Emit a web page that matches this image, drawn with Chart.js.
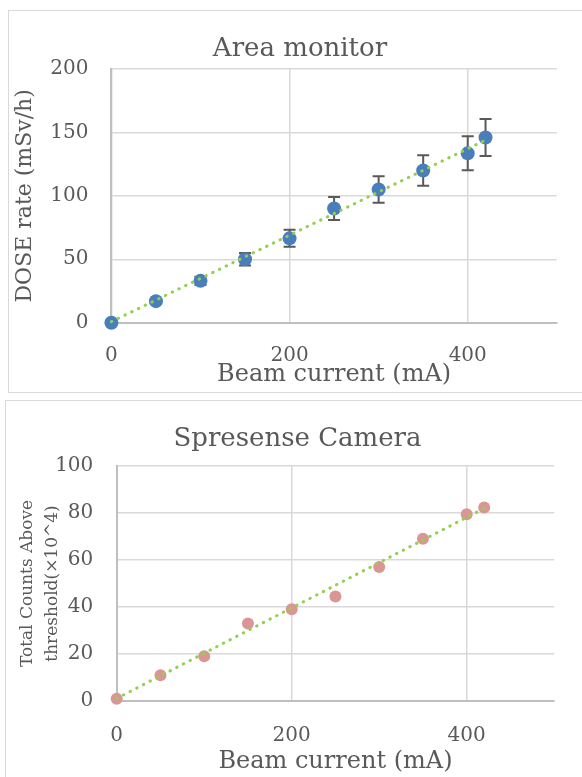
<!DOCTYPE html>
<html>
<head>
<meta charset="utf-8">
<script src="https://cdn.jsdelivr.net/npm/chart.js@4/dist/chart.umd.min.js"></script>
<style>
  html, body { margin: 0; padding: 0; background: #ffffff; width: 582px; height: 777px; overflow: hidden; position: relative; }
  .frame { position: absolute; border: 1.5px solid #d9d9d9; box-sizing: border-box; }
  canvas { position: absolute; }
</style>
</head>
<body>
<div class="frame" style="left:8px; top:10px; width:620px; height:383px;"></div>
<div class="frame" style="left:5px; top:400px; width:620px; height:420px;"></div>
<canvas id="c1" width="584" height="383" style="left:8px; top:10px; width:584px; height:383px;"></canvas>
<canvas id="c2" width="585" height="377" style="left:5px; top:400px; width:585px; height:377px;"></canvas>
<script>
// ---- data ----
const beamCurrent = [0, 50, 100, 150, 200, 250, 300, 350, 400, 420];
const doseRate = [0, 17, 33, 50, 66.5, 90, 105, 120, 133.5, 146];
const doseError = [0, 1.7, 3.3, 5, 6.7, 9, 10.5, 12, 13.4, 14.6];
const totalCounts = [1, 11, 19, 33, 39, 44.5, 57, 69, 79.5, 82.3];
const trendX = [0, 420];
const doseTrendY = [0.8, 144];
const countTrendY = [1.1, 82];
const xTickValues = [0, 200, 400];

const FONT = "'DejaVu Serif', 'Liberation Serif', serif";
const TXT = '#595959';
const GRID = '#d9d9d9';
const AXIS = '#bfbfbf';

const pts = (xs, ys) => xs.map((x, i) => ({ x: x, y: ys[i] }));

const titleFix = {
  id: 'titleFix',
  afterLayout(chart) {
    const t = chart.titleBlock;
    if (t) { t.left = 0; t.right = chart.width; t.width = chart.width; }
  }
};

const errorBars = {
  id: 'errorBars',
  beforeDatasetsDraw(chart, args, opts) {
    if (!opts || !opts.errors) return;
    const xs = chart.scales.x, ys = chart.scales.y;
    const ctx = chart.ctx;
    ctx.save();
    ctx.strokeStyle = '#595959';
    ctx.lineWidth = 2;
    opts.xs.forEach((xv, i) => {
      const e = opts.errors[i];
      if (!e) return;
      const px = xs.getPixelForValue(xv);
      const top = ys.getPixelForValue(opts.ys[i] + e);
      const bot = ys.getPixelForValue(opts.ys[i] - e);
      ctx.beginPath();
      ctx.moveTo(px, top); ctx.lineTo(px, bot);
      ctx.moveTo(px - 6, top); ctx.lineTo(px + 6, top);
      ctx.moveTo(px - 6, bot); ctx.lineTo(px + 6, bot);
      ctx.stroke();
    });
    ctx.restore();
  }
};

function makeChart(id, cfg) {
  return new Chart(document.getElementById(id), {
    type: 'scatter',
    data: {
      datasets: [
        {
          type: 'line',
          data: pts(trendX, cfg.trendY),
          borderColor: '#92d050',
          borderWidth: 3,
          borderDash: [0.5, 7],
          borderCapStyle: 'round',
          pointRadius: 0,
          fill: false,
          clip: false,
          order: 0
        },
        {
          data: pts(beamCurrent, cfg.values),
          backgroundColor: cfg.color,
          borderColor: cfg.color,
          pointRadius: cfg.radius,
          pointHoverRadius: cfg.radius,
          borderWidth: 0,
          clip: false,
          order: 1
        }
      ]
    },
    options: {
      responsive: false,
      animation: false,
      devicePixelRatio: 1,
      events: [],
      layout: { padding: { left: 0, right: cfg.padRight, top: 0, bottom: 0 } },
      plugins: {
        legend: { display: false },
        tooltip: { enabled: false },
        title: {
          display: true,
          text: cfg.title,
          color: TXT,
          font: { family: FONT, size: 26, weight: 'normal', lineHeight: 1.2 },
          padding: { top: cfg.titlePadTop, bottom: cfg.titlePadBottom }
        },
        errorBars: cfg.errors ? { errors: cfg.errors, xs: beamCurrent, ys: cfg.values } : {}
      },
      scales: {
        x: {
          type: 'linear',
          min: 0, max: 500,
          afterBuildTicks: (s) => { s.ticks = xTickValues.map(v => ({ value: v })); },
          ticks: { color: TXT, font: { family: FONT, size: 20 }, padding: cfg.xTickPad, maxRotation: 0 },
          grid: { color: GRID, lineWidth: 1.5, drawTicks: false },
          border: { color: AXIS, width: 2 },
          title: {
            display: true,
            text: 'Beam current (mA)',
            color: TXT,
            font: { family: FONT, size: 24, lineHeight: 1.2 },
            padding: { top: 0, bottom: cfg.xTitlePadBottom }
          },
          afterFit: (s) => { s.height = cfg.xAxisHeight; }
        },
        y: {
          type: 'linear',
          min: 0, max: cfg.yMax,
          ticks: { stepSize: cfg.yStep, color: TXT, font: { family: FONT, size: 20 }, padding: cfg.yTickPad },
          grid: { color: GRID, lineWidth: 1.5, drawTicks: false },
          border: { color: AXIS, width: 2 },
          title: {
            display: true,
            text: cfg.yTitle,
            color: TXT,
            font: { family: FONT, size: cfg.yTitleSize, lineHeight: cfg.yTitleLH },
            padding: { top: cfg.yTitlePadTop, bottom: 0 }
          },
          afterFit: (s) => { s.width = cfg.yAxisWidth; }
        }
      }
    },
    plugins: [titleFix, errorBars]
  });
}

makeChart('c1', {
  title: 'Area monitor',
  values: doseRate,
  errors: doseError,
  trendY: doseTrendY,
  color: '#4a7ebb',
  radius: 7,
  yMax: 200, yStep: 50,
  yTitle: 'DOSE rate (mSv/h)',
  yTitleSize: 22, yTitleLH: 1.2, yTitlePadTop: 4.5,
  yAxisWidth: 103.4, yTickPad: 23,
  xAxisHeight: 70.3, xTickPad: 21, xTitlePadBottom: 4.2,
  padRight: 35.2,
  titlePadTop: 23.3, titlePadBottom: 4.5
});

makeChart('c2', {
  title: 'Spresense Camera',
  values: totalCounts,
  errors: null,
  trendY: countTrendY,
  color: '#da9694',
  radius: 6,
  yMax: 100, yStep: 20,
  yTitle: ['Total Counts Above', 'threshold(×10^4)'],
  yTitleSize: 17, yTitleLH: 1.47, yTitlePadTop: 9.9,
  yAxisWidth: 111.7, yTickPad: 23.4,
  xAxisHeight: 76, xTickPad: 22.8, xTitlePadBottom: 0.9,
  padRight: 35.8,
  titlePadTop: 23.4, titlePadBottom: 11.4
});
</script>
</body>
</html>
